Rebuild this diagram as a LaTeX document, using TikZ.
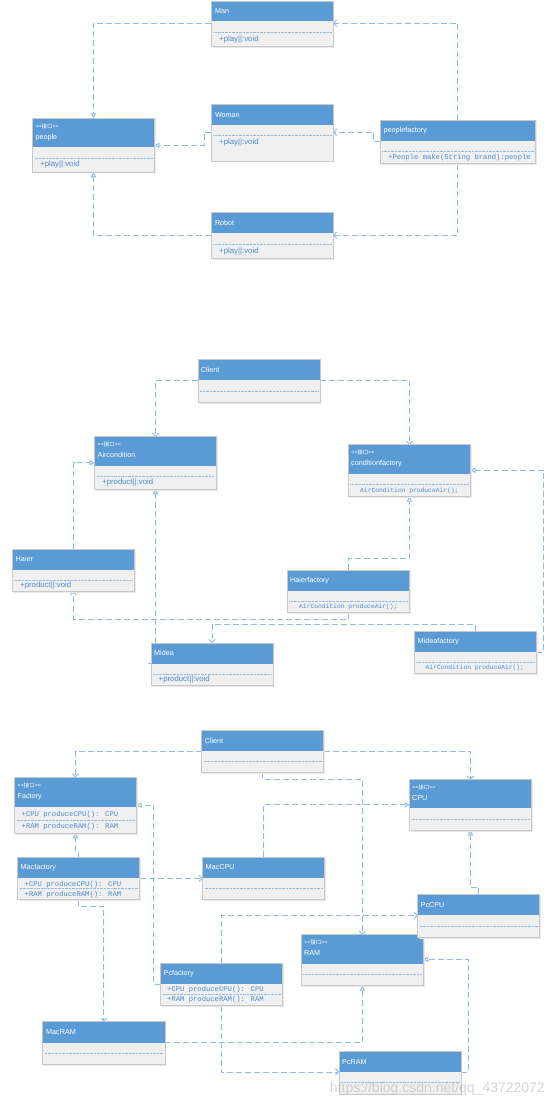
\documentclass[tikz,border=0pt]{standalone}
\usepackage{fontspec}
\setmainfont{Liberation Sans}
\newfontfamily\cjk{Noto Sans CJK SC}
\newfontfamily\monof{Liberation Mono}
\usetikzlibrary{arrows.meta}
\definecolor{hdrc}{HTML}{5B9BD5}
\definecolor{bodyc}{HTML}{F0F0F0}
\definecolor{frmc}{HTML}{C8C8C8}
\definecolor{lnkc}{HTML}{8FBAE3}
\definecolor{txtc}{HTML}{4A8BD0}
\tikzset{
  cbox/.style={fill=bodyc, draw=none, inner sep=0pt, outer sep=0pt, rectangle},
  conn/.style={draw=lnkc, line width=0.9pt, dash pattern=on 6pt off 3pt},
  tri/.style={-{Triangle[open, length=5pt, width=5.5pt, fill=white]}},
  dep/.style={-{Straight Barb[length=3pt, width=6.5pt]}},
  dotl/.style={draw=lnkc, line width=0.6pt, dash pattern=on 0.7pt off 0.7pt},
  htxt/.style={text=white, font=\fontsize{7.2}{8}\selectfont, inner sep=0pt, anchor=west},
  stxt/.style={text=white, font=\cjk\fontsize{5.5}{6}\selectfont, inner sep=0pt, anchor=west},
  btxt/.style={text=txtc, font=\fontsize{7.8}{8}\selectfont, inner sep=0pt, anchor=west},
  mtxt/.style={text=txtc, font=\monof\fontsize{7.2}{8}\selectfont, inner sep=0pt, anchor=west},
}
% name, x1, y1, x2, y2, header bottom
\newcommand\klass[6]{%
  \fill[black!9] (#2+1.2,#3+1.2) rectangle (#4+1.2,#5+1.2);
  \node[cbox, anchor=north west, minimum width={(#4)-(#2)}, minimum height={(#5)-(#3)}] (#1) at (#2,#3) {};
  \fill[hdrc] (#2,#3) rectangle (#4,#6);
  \draw[frmc, line width=0.8pt] (#2,#3) rectangle (#4,#5);
}
% dotted separator: x1, x2, y
\newcommand\sepl[3]{\draw[dotl] (#1+2,#3) -- (#2-2,#3);}
\begin{document}
\begin{tikzpicture}[x=1pt,y=-1pt]
\useasboundingbox (0,0) rectangle (554,1107);
\fill[white] (0,0) rectangle (554,1107);

% ---------------- connectors: section 1
\coordinate (c1a) at (204,132.3);
\draw[conn,tri] (211.3,23.3) -| (93.45,118.3);
\draw[conn,tri] (211.3,132.3) -- (c1a) |- (154.4,145.3);
\draw[conn,tri] (211.3,235.3) -| (93.45,172.3);
\draw[conn,dep] (457.8,120) |- (333,23.3);
\draw[conn,dep] (380.2,141.7) -- (373.9,141.7) |- (333,132.3);
\draw[conn,dep] (457.8,163.8) |- (333,235.3);

% ---------------- boxes: section 1
\klass{man}{211.3}{1}{333}{46.7}{21.3}
\node[htxt] (man-n) at (214.8,11.3) {Man};
\sepl{211.3}{333}{32.3}
\node[btxt] (man-b) at (219,39.3) {+play||:void};

\klass{people}{32.5}{118.3}{154.4}{172.3}{147.3}
\node[stxt] (people-s) at (35.3,126.5) {<{}<接口>{}>};
\node[htxt] (people-n) at (35.3,137.7) {people};
\sepl{32.5}{154.4}{158.3}
\node[btxt] (people-b) at (40,165) {+play||:void};

\klass{woman}{211.3}{104.3}{333}{161.3}{125}
\node[htxt] (woman-n) at (214.8,114.6) {Woman};
\sepl{211.3}{333}{135.3}
\node[btxt] (woman-b) at (219,142.3) {+play||:void};

\klass{robot}{211.3}{212.3}{333}{258.3}{233.3}
\node[htxt] (robot-n) at (214.8,222.6) {Robot};
\sepl{211.3}{333}{244}
\node[btxt] (robot-b) at (219,251.3) {+play||:void};

\klass{pf}{380.2}{120}{535.5}{163.8}{140.7}
\node[htxt] (pf-n) at (383.5,130.5) {peoplefactory};
\sepl{380.2}{535.5}{151.7}
\node[mtxt] (pf-b) at (388,157.5) {+People make(String brand):people};

% ---------------- connectors: section 2
\draw[conn,dep] (197.9,380.7) -| (155.5,436.7);
\draw[conn,dep] (320.1,380.7) -| (409.4,444.7);
\draw[conn,tri] (73.5,549) |- (94.7,462.7);
\draw[conn,tri] (148.4,663.3) -- (155.5,663.3) -- (155.5,489.3);
\draw[conn,tri] (348.4,570) -- (348.4,558.3) -| (409.4,496.7);
\draw[conn,dep] (348.4,612.7) -- (348.4,619) -| (73.5,591.3);
\draw[conn,dep] (475.2,631) -- (475.2,624) -| (212,643);
\draw[conn,tri] (536.4,652.3) -- (543.5,652.3) |- (470.3,470.3);

% ---------------- boxes: section 2
\klass{client2}{197.9}{359.7}{320.1}{402.3}{380.3}
\node[htxt] (client2-n) at (200.7,370) {Client};
\sepl{197.9}{320.1}{391.3}

\klass{aircon}{94.7}{436.7}{216.3}{489.3}{465.7}
\node[stxt] (aircon-s) at (97.5,444.5) {<{}<接口>{}>};
\node[htxt] (aircon-n) at (97.5,455.3) {Aircondition};
\sepl{94.7}{216.3}{476.3}
\node[btxt] (aircon-b) at (102,482.7) {+product||:void};

\klass{cf}{348.4}{444.7}{470.3}{496.7}{474}
\node[stxt] (cf-s) at (351,452.7) {<{}<接口>{}>};
\node[htxt] (cf-n) at (351,463.7) {conditionfactory};
\sepl{348.4}{470.3}{484.7}
\node[mtxt, font=\monof\fontsize{6.3}{7}\selectfont] (cf-b) at (360,490.7) {AirCondition produceAir();};

\klass{haier}{12.7}{549}{134.3}{591.3}{569.7}
\node[htxt] (haier-n) at (15.5,559.3) {Haier};
\sepl{12.7}{134.3}{580}
\node[btxt] (haier-b) at (20,585.5) {+product||:void};

\klass{hf}{287.3}{570}{409.5}{612.7}{590.7}
\node[htxt] (hf-n) at (290,580.3) {Haierfactory};
\sepl{287.3}{409.5}{601.3}
\node[mtxt, font=\monof\fontsize{6.3}{7}\selectfont] (hf-b) at (299,606.7) {AirCondition produceAir();};

\klass{midea}{150.9}{643}{273.1}{685.3}{663.7}
\node[htxt] (midea-n) at (154,653.3) {Midea};
\sepl{150.9}{273.1}{674}
\node[btxt] (midea-b) at (158.5,679.5) {+product||:void};

\klass{mf}{414.1}{631}{536.4}{673.3}{652}
\node[htxt] (mf-n) at (417.5,641.5) {Mideafactory};
\sepl{414.1}{536.4}{662.3}
\node[mtxt, font=\monof\fontsize{6.3}{7}\selectfont] (mf-b) at (425.5,667.7) {AirCondition produceAir();};

% ---------------- connectors: section 3
\draw[conn,dep] (201.8,751.3) -| (75.6,777.3);
\draw[conn,dep] (323.7,751.3) -| (470.45,779.7);
\draw[conn,dep] (262.75,772.3) -- (262.75,779.3) -| (362.35,934.7);
\draw[conn,tri] (263.45,857.3) |- (409.5,804.7);
\draw[conn,tri] (478.65,894.3) -- (478.65,887.3) -| (470.45,830.3);
\draw[conn,tri] (78.65,857.3) -- (78.65,852.3) -| (75.6,833.3);
\draw[conn,dep] (139.6,878.3) -- (202.5,878.3);
\draw[conn,dep] (78.65,899.7) -- (78.65,906.3) -| (103.9,1021.7);
\draw[conn,tri] (160.8,984) -- (153.4,984) |- (136.7,805.3);
\draw[conn,dep] (221.75,963) |- (417.7,915.7);
\draw[conn,dep] (221.75,1005.7) |- (338.9,1072);
\draw[conn,tri] (165,1042.7) -| (362.35,985.7);
\draw[conn,tri] (461.1,1072) -- (468.2,1072) |- (423.3,959.3);

% ---------------- boxes: section 3
\klass{client3}{201.8}{730}{323.7}{772.3}{751}
\node[htxt] (client3-n) at (204.6,740.5) {Client};
\sepl{201.8}{323.7}{761.3}

\klass{factory}{14.5}{777.3}{136.7}{833.3}{806.7}
\node[stxt] (factory-s) at (17.5,785) {<{}<接口>{}>};
\node[htxt] (factory-n) at (17.5,796.7) {Factory};
\node[mtxt] (factory-b1) at (21.5,814.3) {+CPU produceCPU(): CPU};
\sepl{14.5}{136.7}{820}
\node[mtxt] (factory-b2) at (21.5,826.3) {+RAM produceRAM(): RAM};

\klass{cpu}{409.5}{779.7}{531.4}{830.3}{808.3}
\node[stxt] (cpu-s) at (412,787.5) {<{}<接口>{}>};
\node[htxt] (cpu-n) at (412,798.3) {CPU};
\sepl{409.5}{531.4}{819.3}

\klass{macf}{17.7}{857.3}{139.6}{899.7}{878}
\node[htxt] (macf-n) at (20.5,867.5) {Macfactory};
\node[mtxt] (macf-b1) at (24.5,884.3) {+CPU produceCPU(): CPU};
\sepl{17.7}{139.6}{888.7}
\node[mtxt] (macf-b2) at (24.5,894.3) {+RAM produceRAM(): RAM};

\klass{maccpu}{202.5}{857.3}{324.4}{899.7}{878}
\node[htxt] (maccpu-n) at (205.5,867.5) {MacCPU};
\sepl{202.5}{324.4}{888.3}

\klass{ram}{301.4}{934.7}{423.3}{985.7}{963.7}
\node[stxt] (ram-s) at (304,942.5) {<{}<接口>{}>};
\node[htxt] (ram-n) at (304,953.3) {RAM};
\sepl{301.4}{423.3}{974.3}

\klass{pccpu}{417.7}{894.3}{539.6}{937.3}{915.3}
\node[htxt] (pccpu-n) at (420.5,905) {PcCPU};
\sepl{417.7}{539.6}{926.3}

\klass{pcf}{160.8}{963}{282.7}{1005.7}{983.7}
\node[htxt] (pcf-n) at (163.5,973.3) {Pcfactory};
\node[mtxt] (pcf-b1) at (167,990) {+CPU produceCPU(): CPU};
\sepl{160.8}{282.7}{994.3}
\node[mtxt] (pcf-b2) at (167,999.5) {+RAM produceRAM(): RAM};

\klass{macram}{42.8}{1021.7}{165}{1064.3}{1042.7}
\node[htxt] (macram-n) at (46,1032.2) {MacRAM};
\sepl{42.8}{165}{1053.3}

\klass{pcram}{338.9}{1051.3}{461.1}{1094}{1072}
\node[htxt] (pcram-n) at (342,1061.7) {PcRAM};
\sepl{338.9}{461.1}{1082}

% watermark
\node[text=black!30, opacity=0.55, font=\fontsize{14}{16}\selectfont, inner sep=0pt, anchor=east] (wm) at (545,1088.5) {https://blog.csdn.net/qq\_43722072};
\end{tikzpicture}
\end{document}
